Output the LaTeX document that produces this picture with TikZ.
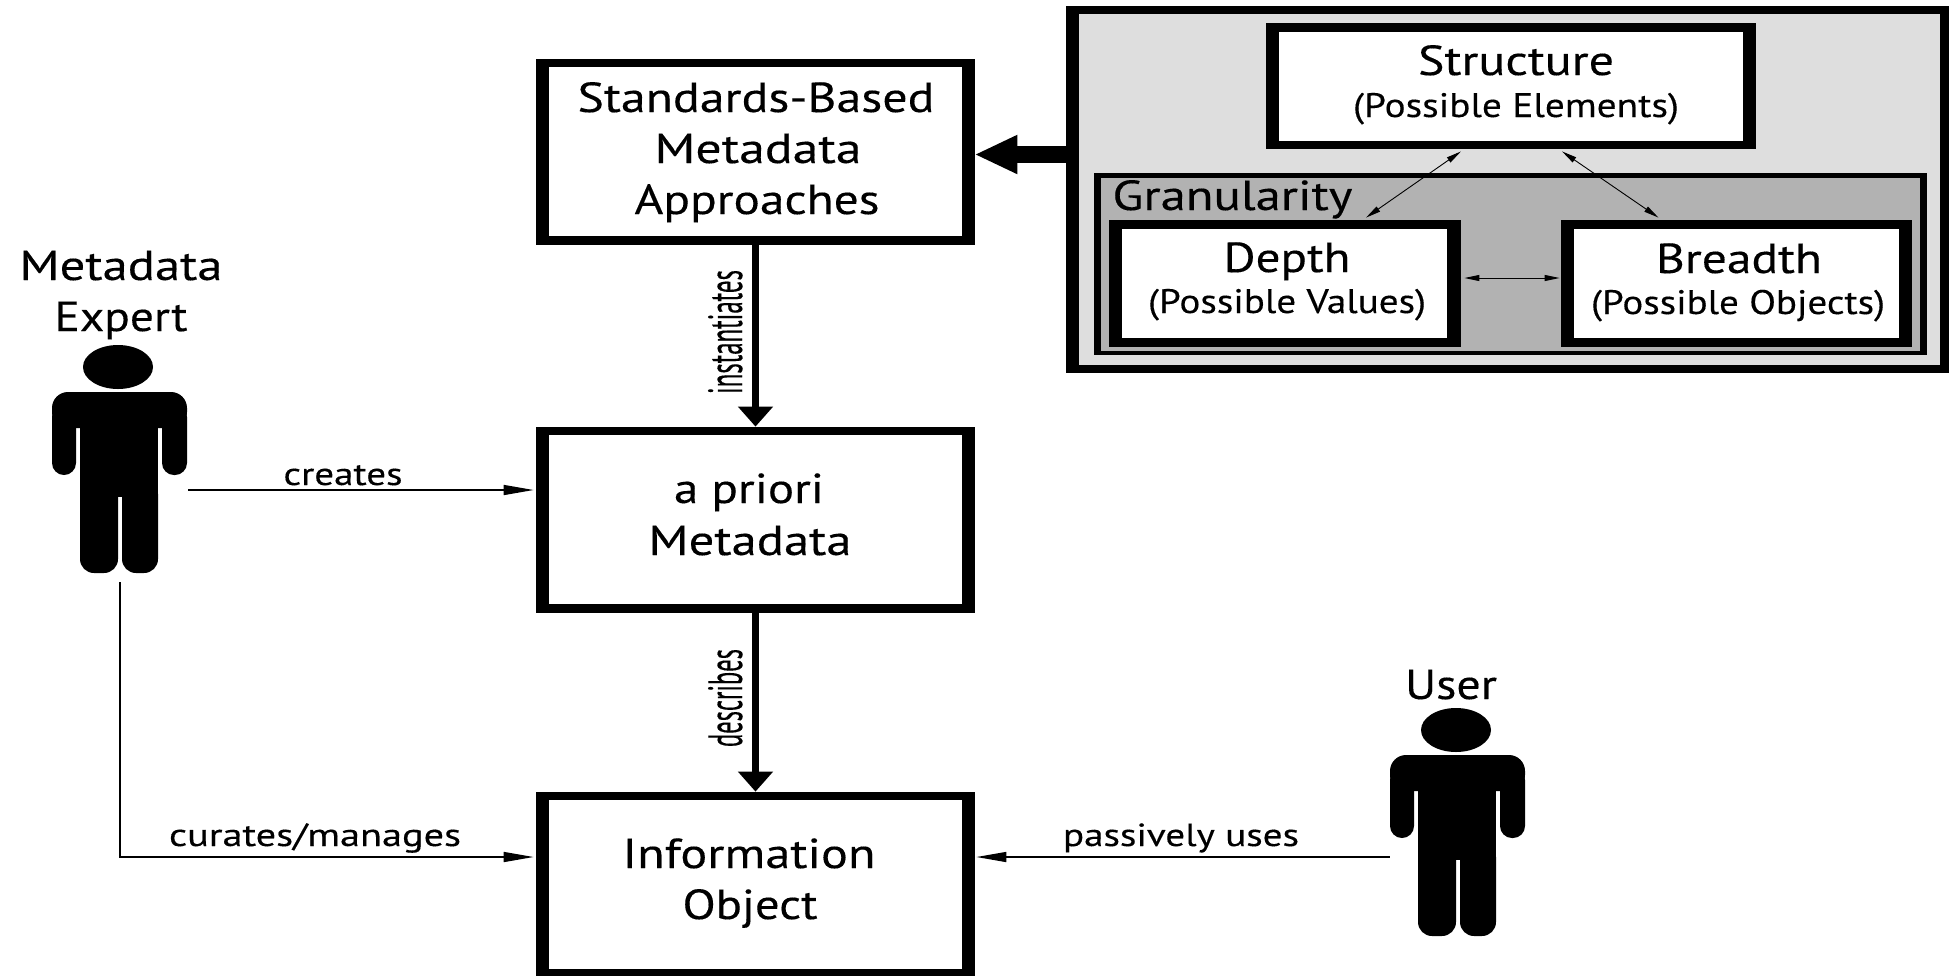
\documentclass[tikz,border=0pt]{standalone}
\usepackage{graphicx}
\usepackage{fontspec}
\setmainfont{PT Sans}[FakeBold=0.2,AutoFakeBold=0.2]
\usetikzlibrary{arrows.meta,positioning}
\newlength{\pxlen}
\setlength{\pxlen}{0.5pt}
\newcommand{\tw}[3]{\resizebox{#1\pxlen}{\height}{\fontsize{#2}{#2}\selectfont\addfontfeature{FakeBold=0.25} #3}}
\tikzset{
  x=0.5pt,y=-0.5pt,
  label/.style={inner sep=0pt,text=black,anchor=base},
  thinarrow/.style={line width=0.75pt,-{Triangle[length=15pt,width=5pt]}},
  thinboth/.style={line width=0.45pt,{Triangle[length=7.5pt,width=3pt]}-{Triangle[length=7.5pt,width=3pt]}},
  fatarrow/.style={line width=3.5pt,-{Triangle[length=10pt,width=17pt]}},
  hugearrow/.style={line width=8.5pt,-{Triangle[length=21.5pt,width=18pt]}},
  hidden/.style={inner sep=0pt,minimum size=0pt}
}
\newcommand{\boxat}[8]{% outer x0,y0,x1,y1, inner x0,y0,x1,y1
  \fill[black] (#1,#2) rectangle (#3,#4);
  \fill[white] (#5,#6) rectangle (#7,#8);
}
\newcommand{\person}[3]{% name, dx, dy
  \begin{scope}[shift={(#2,#3)}]
    \fill[black] (118,367) ellipse [x radius=35,y radius=22];
    \fill[black,rounded corners=8pt] (52,392) rectangle (187,428);
    \fill[black,rounded corners=6pt] (52,405) rectangle (76,475);
    \fill[black,rounded corners=6pt] (162,405) rectangle (187,475);
    \fill[black] (80,415) rectangle (158,497);
    \fill[black,rounded corners=7pt] (80,480) rectangle (118,573);
    \fill[black,rounded corners=7pt] (122,480) rectangle (158,573);
  \end{scope}
  \node[hidden,minimum width=67.5pt,minimum height=114pt] (#1) at (119.5+#2,459+#3) {};
}
\begin{document}
\begin{tikzpicture}
\useasboundingbox (0,0) rectangle (1949,976);
\fill[white] (0,0) rectangle (1949,976);

% grey panel
\fill[black] (1066,6) rectangle (1949,373);
\fill[black!13] (1079,14) rectangle (1940,365);
\fill[black] (1094,173) rectangle (1927,355);
\fill[black!30] (1101,178) rectangle (1920,351);

% left column boxes
\boxat{536}{59}{975}{245}{549}{67}{962}{236}
\boxat{536}{427}{975}{613}{549}{435}{962}{604}
\boxat{536}{792}{975}{976}{549}{800}{962}{969}
% inner boxes
\boxat{1266}{23}{1756}{149}{1279}{32}{1743}{141}
\boxat{1109}{220}{1461}{347}{1122}{229}{1447}{338}
\boxat{1561}{220}{1912}{347}{1574}{229}{1899}{338}

% named anchors of the boxes
\node[hidden,minimum width=219.5pt,minimum height=93pt] (standards) at (755.5,152) {};
\node[hidden,minimum width=219.5pt,minimum height=93pt] (apriori) at (755.5,520) {};
\node[hidden,minimum width=219.5pt,minimum height=92pt] (info) at (755.5,884) {};
\node[hidden,minimum width=245pt,minimum height=63pt] (structure) at (1511,86) {};
\node[hidden,minimum width=176pt,minimum height=63.5pt] (depth) at (1285,283.5) {};
\node[hidden,minimum width=175.5pt,minimum height=63.5pt] (breadth) at (1736.5,283.5) {};
\node[hidden,minimum width=441.5pt,minimum height=183.5pt] (panel) at (1507.5,189.5) {};

\person{expert}{0}{0}
\person{user}{1338}{363}

% box text
\node[label] (t1) at (756,112) {\tw{357}{21pt}{Standards-Based}};
\node[label] (t2) at (758,163) {\tw{207}{21pt}{Metadata}};
\node[label] (t3) at (757,214) {\tw{245}{21pt}{Approaches}};
\node[label] (t4) at (749,503) {\tw{150}{21pt}{a priori}};
\node[label] (t5) at (750,555) {\tw{203}{21pt}{Metadata}};
\node[label] (t6) at (749,868) {\tw{253}{21pt}{Information}};
\node[label] (t7) at (750,919) {\tw{135}{21pt}{Object}};
\node[label] (t8) at (121,280) {\tw{203}{21pt}{Metadata}};
\node[label] (t9) at (121,331) {\tw{133}{21pt}{Expert}};
\node[label] (t10) at (1451,699) {\tw{92}{21pt}{User}};
\node[label] (t11) at (1516,75) {\tw{196}{21pt}{Structure}};
\node[label] (t12) at (1516,117) {\tw{326}{17pt}{(Possible Elements)}};
\node[label,anchor=base west] (t13) at (1112,210) {\tw{240}{21pt}{Granularity}};
\node[label] (t14) at (1287,272) {\tw{127}{21pt}{Depth}};
\node[label] (t15) at (1287,313) {\tw{278}{17pt}{(Possible Values)}};
\node[label] (t16) at (1739,273) {\tw{166}{21pt}{Breadth}};
\node[label] (t17) at (1738,314) {\tw{294}{17pt}{(Possible Objects)}};

% edge labels
\node[label] (l1) at (343,485) {\tw{119}{16pt}{creates}};
\node[label] (l2) at (315,846) {\tw{292}{16pt}{curates/manages}};
\node[label] (l3) at (1181,846) {\tw{236}{16pt}{passively uses}};
\node[label,rotate=90] (l4) at (742,332) {\tw{124}{24pt}{instantiates}};
\node[label,rotate=90] (l5) at (742,698) {\tw{98}{24pt}{describes}};

% connectors
\coordinate (c1) at (188,490);
\coordinate (c2) at (120,582);
\coordinate (c3) at (120,857);
\draw[fatarrow] (standards.south) -- (apriori.north);
\draw[fatarrow] (apriori.south) -- (info.north);
\draw[hugearrow,shorten >=-0.5pt] (panel.west |- 0,154.5) -- (standards.east |- 0,154.5);
\draw[thinarrow,shorten >=1pt] (c1) -- (apriori.west |- c1);
\draw[thinarrow,shorten >=1pt] (c2) -- (c3) -- (info.west |- c3);
\draw[thinarrow,shorten >=0.5pt] (user.west |- c3) -- (info.east |- c3);
\draw[thinboth] ([shift={(-50,2)}]structure.south) -- ([shift={(81,-2)}]depth.north);
\draw[thinboth] ([shift={(51,2)}]structure.south) -- ([shift={(-78,-2)}]breadth.north);
\draw[thinboth] ([shift={(3,-5.5)}]depth.east) -- ([shift={(-1,-5.5)}]breadth.west);
\end{tikzpicture}
\end{document}
